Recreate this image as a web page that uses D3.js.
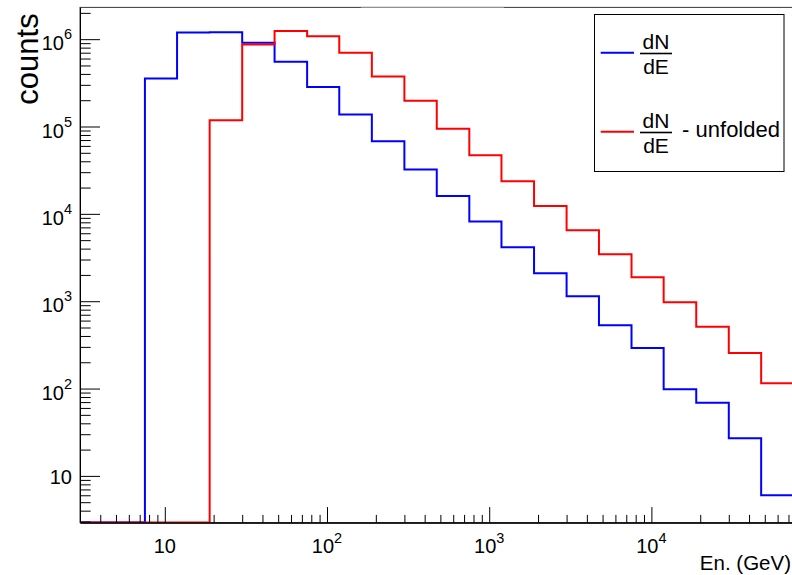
<!DOCTYPE html>
<html>
<head>
<meta charset="utf-8">
<script src="https://cdn.jsdelivr.net/npm/d3@7"></script>
<style>
  html, body { margin: 0; padding: 0; background: #fff; }
  svg { display: block; font-family: "Liberation Sans", Arial, Helvetica, sans-serif; }
</style>
</head>
<body>
<svg id="chart" width="792" height="575"></svg>
<script>
// Energy bin edges (GeV), five log-spaced bins per decade
const binEdges = [3, 4.75, 7.54, 11.9, 18.9, 30.0, 47.5, 75.4, 119, 189, 300, 475, 754,
                  1190, 1890, 3000, 4750, 7540, 11900, 18900, 30000, 47500, 75400];

// Counts per bin
const dNdE = [0, 0, 3.55e5, 1.19e6, 1.2e6, 9.1e5, 5.5e5, 2.84e5, 1.37e5, 6.8e4, 3.23e4,
              1.6e4, 8.2e3, 4.14e3, 2.09e3, 1.14e3, 530, 292, 98, 69, 27, 6.0];
const dNdEUnfolded = [0, 0, 0, 0, 1.18e5, 8.7e5, 1.24e6, 1.08e6, 6.97e5, 3.74e5, 1.97e5,
                      9.4e4, 4.7e4, 2.36e4, 1.23e4, 6.47e3, 3.44e3, 1.88e3, 975, 510, 256, 115];

// Axis ticks
const xMajorTicks = [10, 100, 1000, 10000];
const xTickLabels = [["10", ""], ["10", "2"], ["10", "3"], ["10", "4"]];
const yMajorTicks = [10, 100, 1000, 10000, 1e5, 1e6];
const yTickLabels = [["10", ""], ["10", "2"], ["10", "3"], ["10", "4"], ["10", "5"], ["10", "6"]];

const legendLabels = ["", " - unfolded"];
const seriesColors = ["#0000ff", "#ff0000"];

const svg = d3.select("#chart");
const frame = { left: 80, right: 813.6, top: 7.4, bottom: 522.6 };

const x = d3.scaleLog().domain([3, 1e5]).range([frame.left, frame.right]);
const y = d3.scaleLog().domain([2.92, 2.31e6]).range([frame.bottom, frame.top]);

function minorTicks(scale) {
  const [lo, hi] = scale.domain();
  const out = [];
  for (let d = Math.pow(10, Math.floor(Math.log10(lo))); d < hi; d *= 10) {
    for (let m = 2; m <= 9; m++) {
      const v = m * d;
      if (v >= lo && v <= hi) out.push(v);
    }
  }
  return out;
}

// clip region for the histograms
svg.append("clipPath").attr("id", "plotClip")
  .append("rect")
  .attr("x", frame.left).attr("y", frame.top)
  .attr("width", frame.right - frame.left).attr("height", frame.bottom - frame.top);

// frame
svg.append("rect")
  .attr("x", frame.left).attr("y", frame.top)
  .attr("width", frame.right - frame.left).attr("height", frame.bottom - frame.top)
  .attr("fill", "none").attr("stroke", "#3a3a3a").attr("stroke-width", 1);

// empty title pave sitting on the top frame edge
svg.append("line")
  .attr("x1", 361).attr("x2", 504).attr("y1", 7).attr("y2", 7)
  .attr("stroke", "#d4d4d4").attr("stroke-width", 1.2);

// histograms as step outlines
function histPath(values) {
  const yMin = y.domain()[0];
  const yv = v => y(Math.max(v, yMin));
  let p = `M${x(binEdges[0])},${y(yMin)}`;
  values.forEach((v, i) => {
    p += `V${yv(v)}H${x(binEdges[i + 1])}`;
  });
  p += `V${y(yMin)}`;
  return p;
}

const hists = svg.append("g").attr("clip-path", "url(#plotClip)");
[dNdE, dNdEUnfolded].forEach((vals, i) => {
  hists.append("path")
    .attr("d", histPath(vals))
    .attr("fill", "none")
    .attr("stroke", seriesColors[i])
    .attr("stroke-width", 2)
    .attr("stroke-linejoin", "miter");
});

// x axis: ticks point into the frame
const gx = svg.append("g").attr("transform", `translate(0,${frame.bottom})`);
gx.append("g").call(d3.axisBottom(x).tickValues(minorTicks(x)).tickSize(-7.7).tickSizeOuter(0).tickFormat(""));
gx.append("g").call(d3.axisBottom(x).tickValues(xMajorTicks).tickSize(-15.5).tickSizeOuter(0).tickFormat(""));
gx.selectAll("path.domain").attr("stroke", "#000");
gx.selectAll(".tick line").attr("stroke", "#000");

xMajorTicks.forEach((v, i) => {
  const t = svg.append("text")
    .attr("x", x(v)).attr("y", 552.5)
    .attr("text-anchor", "middle")
    .attr("font-size", 20).attr("fill", "#000");
  t.append("tspan").text(xTickLabels[i][0]);
  if (xTickLabels[i][1]) {
    t.append("tspan").attr("font-size", 14.5).attr("dy", -10).text(xTickLabels[i][1]);
  }
});

// y axis
const gy = svg.append("g").attr("transform", `translate(${frame.left},0)`);
gy.append("g").call(d3.axisLeft(y).tickValues(minorTicks(y)).tickSize(-10.7).tickSizeOuter(0).tickFormat(""));
gy.append("g").call(d3.axisLeft(y).tickValues(yMajorTicks).tickSize(-20).tickSizeOuter(0).tickFormat(""));
gy.selectAll("path.domain").attr("stroke", "#000");
gy.selectAll(".tick line").attr("stroke", "#000");

yMajorTicks.forEach((v, i) => {
  const hasExp = !!yTickLabels[i][1];
  const t = svg.append("text")
    .attr("x", 72).attr("y", y(v) + (hasExp ? 11 : 8))
    .attr("text-anchor", "end")
    .attr("font-size", 20).attr("fill", "#000");
  t.append("tspan").text(yTickLabels[i][0]);
  if (hasExp) {
    t.append("tspan").attr("font-size", 14.5).attr("dy", -11).text(yTickLabels[i][1]);
  }
});

// axis titles
svg.append("text")
  .attr("x", 791).attr("y", 570)
  .attr("text-anchor", "end")
  .attr("font-size", 20.5).attr("fill", "#000")
  .text("En. (GeV)");

svg.append("text")
  .attr("transform", "translate(38.3,13.3) rotate(-90)")
  .attr("text-anchor", "end")
  .attr("font-size", 31).attr("fill", "#000")
  .text("counts");

// legend
const legend = svg.append("g");
legend.append("rect")
  .attr("x", 594.5).attr("y", 14.5).attr("width", 189.5).attr("height", 157)
  .attr("fill", "#fff").attr("stroke", "#000").attr("stroke-width", 1);

[52.7, 131.7].forEach((cy, i) => {
  legend.append("line")
    .attr("x1", 600.7).attr("x2", 634).attr("y1", cy).attr("y2", cy)
    .attr("stroke", seriesColors[i]).attr("stroke-width", 2);
  legend.append("text")
    .attr("x", 656).attr("y", cy - 3.4).attr("text-anchor", "middle")
    .attr("font-size", 21).text("dN");
  legend.append("line")
    .attr("x1", 640).attr("x2", 672).attr("y1", cy + 0.8).attr("y2", cy + 0.8)
    .attr("stroke", "#000").attr("stroke-width", 1.6);
  legend.append("text")
    .attr("x", 656).attr("y", cy + 21.6).attr("text-anchor", "middle")
    .attr("font-size", 21).text("dE");
  if (legendLabels[i]) {
    legend.append("text")
      .attr("x", 676).attr("y", cy + 5.6)
      .attr("font-size", 22).attr("xml:space", "preserve")
      .text(legendLabels[i]);
  }
});
</script>
</body>
</html>
